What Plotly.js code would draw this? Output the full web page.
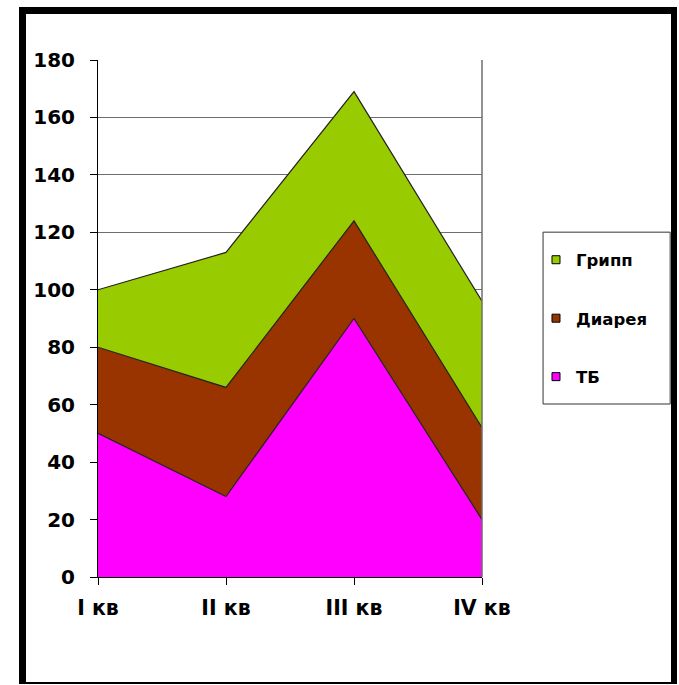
<!DOCTYPE html>
<html>
<head>
<meta charset="utf-8">
<script src="https://cdn.plot.ly/plotly-3.0.1.min.js"></script>
<style>
  html, body { margin: 0; padding: 0; background: #fff; }
  #wrap { position: relative; width: 679px; height: 685px; }
  #chart { width: 679px; height: 685px; }
  #frame {
    position: absolute; left: 19px; top: 7px; width: 658px; height: 677px;
    box-sizing: border-box; pointer-events: none;
    border-left: 7px solid #000; border-top: 7px solid #000;
    border-right: 6px solid #000; border-bottom: 2px solid #000;
  }
</style>
</head>
<body>
<div id="wrap">
  <div id="chart"></div>
  <div id="frame"></div>
</div>
<script>
// Data
const categories = ['I кв', 'II кв', 'III кв', 'IV кв'];
const seriesNames = ['ТБ', 'Диарея', 'Грипп'];
const tbValues = [50, 28, 90, 20];
const diarrheaValues = [30, 38, 34, 32];
const fluValues = [20, 47, 45, 44];
const seriesColors = ['#FF00FF', '#993300', '#99CC00'];
const yTickValues = [0, 20, 40, 60, 80, 100, 120, 140, 160, 180];

const seriesValues = [tbValues, diarrheaValues, fluValues];

const traces = [];
seriesValues.forEach((vals, i) => {
  traces.push({
    type: 'scatter',
    mode: 'lines',
    x: categories,
    y: vals,
    name: seriesNames[i],
    stackgroup: 'one',
    fillcolor: seriesColors[i],
    line: { color: '#222', width: 1.2 },
    legendgroup: seriesNames[i],
    showlegend: false,
    hoverinfo: 'skip'
  });
});
// legend entries (square swatches)
[2, 1, 0].forEach((i) => {
  traces.push({
    type: 'scatter',
    mode: 'markers',
    x: [null],
    y: [null],
    name: seriesNames[i],
    legendgroup: seriesNames[i],
    marker: { symbol: 'square', size: 8, color: seriesColors[i], line: { color: '#000', width: 1 } },
    showlegend: true,
    hoverinfo: 'skip'
  });
});

const fontFam = 'DejaVu Sans, Arial, sans-serif';

const layout = {
  width: 679,
  height: 685,
  margin: { l: 98, r: 197, t: 60, b: 108, pad: 0 },
  paper_bgcolor: '#fff',
  plot_bgcolor: '#fff',
  showlegend: true,
  xaxis: {
    type: 'category',
    range: [0, 3],
    showgrid: false,
    zeroline: false,
    showline: true,
    linecolor: '#000',
    linewidth: 1,
    ticks: 'outside',
    ticklen: 7,
    tickcolor: '#000',
    ticklabelstandoff: 5,
    tickfont: { family: fontFam, size: 20.5, weight: 'bold', color: '#000' },
    fixedrange: true
  },
  yaxis: {
    range: [0, 180],
    tickvals: yTickValues,
    showgrid: true,
    gridcolor: '#6e6e6e',
    gridwidth: 1,
    zeroline: false,
    showline: true,
    linecolor: '#000',
    linewidth: 1,
    ticks: 'outside',
    ticklen: 7,
    tickcolor: '#000',
    ticklabelstandoff: 11,
    tickfont: { family: fontFam, size: 20, weight: 'bold', color: '#000' },
    fixedrange: true
  },
  legend: {
    x: 1.1406,
    xanchor: 'left',
    y: 0.647,
    yanchor: 'top',
    traceorder: 'grouped',
    tracegroupgap: 34,
    bgcolor: 'rgba(0,0,0,0)',
    borderwidth: 0,
    itemwidth: 30,
    font: { family: fontFam, size: 16.5, weight: 'bold', color: '#000' }
  },
  shapes: [
    { type: 'line', xref: 'paper', yref: 'paper', x0: 1, x1: 1, y0: 0, y1: 1,
      line: { color: '#6e6e6e', width: 1.5 }, layer: 'above' },
    { type: 'rect', xref: 'paper', yref: 'paper', x0: 1.159, x1: 1.49, y0: 0.3346, y1: 0.667,
      line: { color: '#333', width: 1 }, fillcolor: 'rgba(0,0,0,0)', layer: 'below' }
  ]
};

Plotly.newPlot('chart', traces, layout, { displayModeBar: false, staticPlot: true });
</script>
</body>
</html>
